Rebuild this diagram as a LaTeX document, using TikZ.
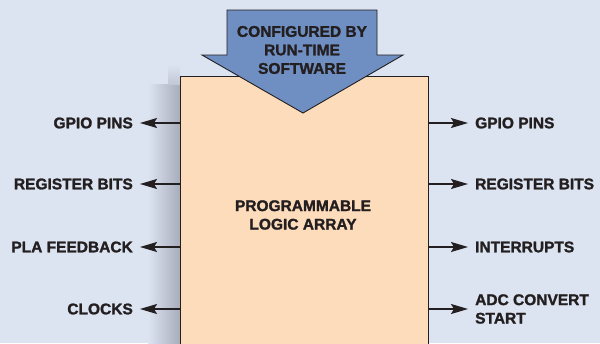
\documentclass[tikz,border=0pt]{standalone}
\usepackage{fontspec}
\usepackage{tikz}
\usepackage{xcolor}
\usetikzlibrary{calc,arrows.meta}
\setmainfont{Liberation Sans}[BoldFeatures={FakeBold=1.5}]
\definecolor{backcolorc}{HTML}{DCE3F1}
\definecolor{placolorc}{HTML}{FDDCBC}
\definecolor{cfgcolorc}{HTML}{6F8FC2}
\definecolor{inkc}{HTML}{231F20}
\definecolor{shadowcolor}{HTML}{A8ADBC}
\tikzstyle{plabox} =[
    draw=inkc,
    fill=placolorc,
    line width=1.4pt,
    rectangle,
    minimum width=248pt,
    minimum height=272pt,
    inner sep=0pt
    ]
\tikzstyle{siglabel} =[
    text=inkc,
    font=\bfseries\fontsize{15.5}{18.5}\selectfont,
    inner xsep=7pt,
    inner ysep=0pt
    ]
\tikzset{sig/.style={
    draw=inkc,
    line width=1.5pt,
    -{Stealth[length=17pt,width=10pt,inset=3pt]}
    }}

\begin{document}
\begin{tikzpicture}[x=1pt,y=-1pt]
% page and background
\fill[backcolorc] (0,0) rectangle (600,343);
\useasboundingbox (0,0) rectangle (600,343);
% shadow left of the array
\shade[left color=backcolorc, right color=shadowcolor] (148,84) rectangle (180,343);
\shade[top color=backcolorc, bottom color=shadowcolor!50!backcolorc] (168,64) rectangle (180,84);
% the logic array itself
\node [plabox, anchor=north west] (pla) at (180,76) {};
\node [siglabel, align=center] (planame) at (303,215) {PROGRAMMABLE\\LOGIC ARRAY};
% configuration arrow
\draw[draw=inkc, fill=cfgcolorc, line width=0.9pt]
    (227,10) -- (377,10) -- (377,55) -- (403,55) -- (303,113)
    -- (202,55) -- (227,55) -- cycle;
\node [siglabel, align=center] (cfg) at (302,50) {CONFIGURED BY\\RUN-TIME\\SOFTWARE};
% left side signals
\node [siglabel, anchor=east] (lgpio) at (140,123) {GPIO PINS};
\node [siglabel, anchor=east] (lreg) at (140,184) {REGISTER BITS};
\node [siglabel, anchor=east] (lfb) at (140,247) {PLA FEEDBACK};
\node [siglabel, anchor=east] (lclk) at (140,309) {CLOCKS};
\foreach \s in {lgpio,lreg,lfb,lclk}
    \draw[sig] (pla.west |- \s.east) -- (\s.east);
% right side signals
\node [siglabel, anchor=west] (rgpio) at (468,123) {GPIO PINS};
\node [siglabel, anchor=west] (rreg) at (468,184) {REGISTER BITS};
\node [siglabel, anchor=west] (rirq) at (468,247) {INTERRUPTS};
\node [siglabel, anchor=west, align=left] (radc) at (468,309) {ADC CONVERT\\START};
\foreach \s in {rgpio,rreg,rirq,radc}
    \draw[sig] (pla.east |- \s.west) -- (\s.west);
\end{tikzpicture}
\end{document}
